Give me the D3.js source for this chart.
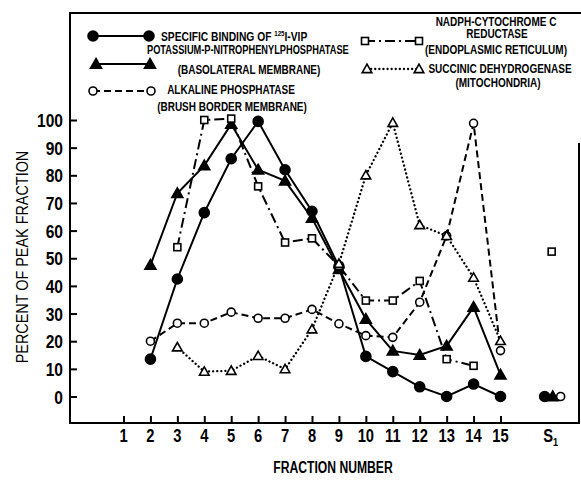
<!doctype html>
<html lang="en">
<head>
<meta charset="utf-8">
<title>Percent of peak fraction</title>
<script src="https://cdn.jsdelivr.net/npm/d3@7"></script>
<style>
  body { margin: 0; background: #fff; }
  svg { display: block; font-family: "Liberation Sans", Arial, sans-serif; font-weight: bold; }
</style>
</head>
<body>
<div id="chart"></div>
<script>

// fractions 1..15, then the S1 supernatant column
const fractions = d3.range(1, 16);
const yTicks = [0, 10, 20, 30, 40, 50, 60, 70, 80, 90, 100];
const s1Pos = 16.9;

const vip    = [null, 13.5, 42.5, 66.5, 86, 99.5, 82, 67, 47, 14.5, 9, 3.5, 0, 4.5, 0];
const kpnpp  = [null, 47.5, 73.5, 83.5, 98.5, 82, 78, 64.5, 46, 28, 16.5, 15, 18.3, 32.3, 7.8];
const alkP   = [null, 20, 26.5, 26.5, 30.5, 28.3, 28.3, 31.5, 26.3, 22, 21.4, 34.1, 58.1, 98.8, 16.6];
const nadph  = [null, null, 54, 100, 100.5, 76, 55.7, 57.2, 47.2, 34.7, 34.7, 41.8, 13.5, 11.1, null];
const sdh    = [null, null, 17.8, 9, 9.3, 14.7, 9.9, 24.3, 48, 80, 99, 62, 58.1, 43, 20.1];
const s1Values = {vip: 0, kpnpp: 0, alkP: 0, nadph: 52.4, sdh: null};

const series = [
  {key: 'vip',   values: vip,   marker: 'circle',   filled: true,  dash: null,       s1dx: -7},
  {key: 'kpnpp', values: kpnpp, marker: 'triangle', filled: true,  dash: null,       s1dx: 1},
  {key: 'alkP',  values: alkP,  marker: 'circle',   filled: false, dash: '7,4',      s1dx: 9},
  {key: 'nadph', values: nadph, marker: 'square',   filled: false, dash: '10,4,2,4', s1dx: 0},
  {key: 'sdh',   values: sdh,   marker: 'triangle', filled: false, dash: '0.1,4',    s1dx: 0}
];

const width = 581, height = 480;
const frame = {left: 70, top: 13, right: 579, bottom: 423};

const x = d3.scaleLinear().domain([1, 15]).range([123.5, 500.5]);
const y = d3.scaleLinear().domain([0, 100]).range([396.5, 120]);

const svg = d3.select('#chart').append('svg')
    .attr('width', width)
    .attr('height', height);

// the original lettering is a condensed bold face, so squeeze Liberation Sans horizontally
function label(parent, tx, ty, str, size, sx, anchor) {
  return parent.append('text')
      .attr('transform', `translate(${tx},${ty}) scale(${sx},1)`)
      .attr('text-anchor', anchor || 'start')
      .style('font-size', size + 'px')
      .text(str);
}

// frame (the right edge of the scan only shows from about y=143 down)
svg.append('path')
    .attr('d', `M${frame.right},143V${frame.bottom}H${frame.left}V${frame.top}H${frame.right + 2}`)
    .attr('fill', 'none')
    .attr('stroke', '#000')
    .attr('stroke-width', 2);

// y axis, ticks pointing inward
const yAxis = svg.append('g')
    .attr('transform', `translate(${frame.left},0)`)
    .call(d3.axisRight(y).tickValues(yTicks).tickSize(7).tickFormat(''));
yAxis.select('.domain').remove();
yAxis.selectAll('line').attr('stroke-width', 2);

svg.append('g').selectAll('text')
    .data(yTicks)
    .join('text')
    .attr('transform', d => `translate(63,${y(d) + 7}) scale(0.82,1)`)
    .attr('text-anchor', 'end')
    .style('font-size', '19px')
    .text(d => d);

// x axis, ticks pointing up
const xAxis = svg.append('g')
    .attr('transform', `translate(0,${frame.bottom})`)
    .call(d3.axisTop(x).tickValues(fractions).tickSize(7).tickFormat(''));
xAxis.select('.domain').remove();
xAxis.selectAll('line').attr('stroke-width', 2);

svg.append('g').selectAll('text')
    .data(fractions)
    .join('text')
    .attr('transform', d => `translate(${x(d)},442) scale(0.82,1)`)
    .attr('text-anchor', 'middle')
    .style('font-size', '18px')
    .text(d => d);

const s1Label = label(svg, x(s1Pos) - 1, 442, null, 18, 0.82, 'middle');
s1Label.append('tspan').text('S');
s1Label.append('tspan').attr('dy', 4).style('font-size', '11px').text('1');

label(svg, 333, 473, 'FRACTION NUMBER', 16, 0.76, 'middle');

svg.append('text')
    .attr('transform', 'translate(28,257) rotate(-90) scale(0.9,1)')
    .attr('text-anchor', 'middle')
    .style('font-size', '16px')
    .style('font-weight', 'normal')
    .text('PERCENT OF PEAK FRACTION');

// markers
function drawMarker(g, s, cx, cy) {
  const fill = s.filled ? '#000' : '#fff';
  if (s.marker === 'circle') {
    g.append('circle')
        .attr('cx', cx).attr('cy', cy)
        .attr('r', s.filled ? 5 : 4)
        .attr('fill', fill).attr('stroke', '#000').attr('stroke-width', 1.6);
  } else if (s.marker === 'square') {
    g.append('rect')
        .attr('x', cx - 3.5).attr('y', cy - 3.5)
        .attr('width', 7).attr('height', 7)
        .attr('fill', fill).attr('stroke', '#000').attr('stroke-width', 1.6);
  } else {
    const r = s.filled ? 5.5 : 4.8;
    g.append('path')
        .attr('d', `M${cx},${cy - r}L${cx + r},${cy + r * 0.75}L${cx - r},${cy + r * 0.75}Z`)
        .attr('fill', fill).attr('stroke', '#000').attr('stroke-width', 1.6);
  }
}

function styleLine(sel, s) {
  sel.attr('fill', 'none')
      .attr('stroke', '#000')
      .attr('stroke-width', s.key === 'sdh' ? 2.3 : 2)
      .attr('stroke-dasharray', s.dash)
      .attr('stroke-linecap', s.key === 'sdh' ? 'round' : 'butt');
}

const line = d3.line()
    .defined(d => d.v != null)
    .x(d => x(d.f))
    .y(d => y(d.v));

const plot = svg.append('g');

series.forEach(s => {
  const pts = s.values.map((v, i) => ({f: fractions[i], v: v}));
  plot.append('path')
      .datum(pts)
      .attr('d', line)
      .call(styleLine, s);
});

series.forEach(s => {
  const g = plot.append('g');
  s.values.forEach((v, i) => {
    if (v != null) drawMarker(g, s, x(fractions[i]), y(v));
  });
  const sv = s1Values[s.key];
  if (sv != null) drawMarker(g, s, x(s1Pos) + s.s1dx, y(sv));
});

// legend
const legendKeys = [
  {key: 'vip',   x1: 93,  x2: 149, y: 36},
  {key: 'kpnpp', x1: 96,  x2: 150, y: 64},
  {key: 'alkP',  x1: 93,  x2: 151, y: 91},
  {key: 'nadph', x1: 365, x2: 419, y: 41},
  {key: 'sdh',   x1: 367, x2: 419, y: 69}
];

const legend = svg.append('g');
legendKeys.forEach(k => {
  const s = series.find(d => d.key === k.key);
  legend.append('line')
      .attr('x1', k.x1).attr('x2', k.x2)
      .attr('y1', k.y).attr('y2', k.y)
      .call(styleLine, s);
  drawMarker(legend, s, k.x1, k.y);
  drawMarker(legend, s, k.x2, k.y);
});

const legendText = [
  {text: 'POTASSIUM-P-NITROPHENYLPHOSPHATASE', x: 147, y: 54, anchor: 'start', sx: 0.74},
  {text: '(BASOLATERAL MEMBRANE)', x: 249, y: 74, anchor: 'middle'},
  {text: 'ALKALINE PHOSPHATASE', x: 231, y: 94, anchor: 'middle'},
  {text: '(BRUSH BORDER MEMBRANE)', x: 232, y: 111, anchor: 'middle'},
  {text: 'NADPH-CYTOCHROME C', x: 496, y: 26, anchor: 'middle'},
  {text: 'REDUCTASE', x: 497, y: 38, anchor: 'middle'},
  {text: '(ENDOPLASMIC RETICULUM)', x: 496, y: 54, anchor: 'middle'},
  {text: 'SUCCINIC DEHYDROGENASE', x: 500, y: 73, anchor: 'middle'},
  {text: '(MITOCHONDRIA)', x: 498, y: 87, anchor: 'middle'}
];

legendText.forEach(d => label(legend, d.x, d.y, d.text, 12.5, d.sx || 0.8, d.anchor));

const vipLab = label(legend, 161, 40.5, null, 12.5, 0.82);
vipLab.append('tspan').text('SPECIFIC BINDING OF ');
vipLab.append('tspan').attr('dy', -4.5).style('font-size', '7.5px').text('125');
vipLab.append('tspan').attr('dy', 4.5).text('I-VIP');

</script>
</body>
</html>
